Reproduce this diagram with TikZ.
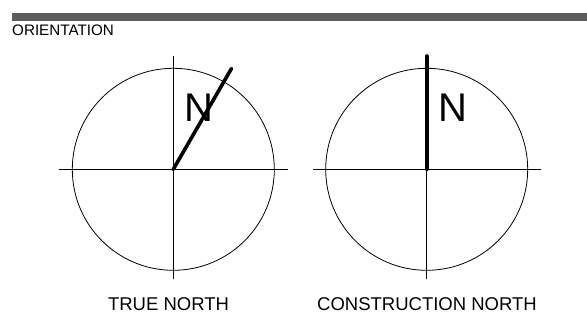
\documentclass[tikz,border=0pt]{standalone}
\usepackage{fontspec}
\setmainfont{Liberation Sans}
\usepackage{tikz}

\begin{document}
\begin{tikzpicture}[x=1pt,y=-1pt,
                    thin line/.style={line width=0.8pt},
                    needle/.style={line width=3.6pt,line cap=round},
                    dial/.style={circle,draw,thin line,inner sep=0pt,minimum size=202pt},
                    caption/.style={inner sep=0pt,anchor=base,font=\fontsize{18.5}{20}\selectfont}]
  \useasboundingbox (0,0) rectangle (587,323);
  % header bar and title
  \fill[black!64] (12,13) rectangle (587,21);
  \node[inner sep=0pt,anchor=base west,font=\fontsize{15.2}{16}\selectfont] (title) at (12,36) {ORIENTATION};
  % true north: needle turned 30 degrees off the grid
  \node[dial] (tn) at (173.3,169.3) {};
  \coordinate (tnT) at (173.3,56);  \coordinate (tnB) at (173.3,279);
  \coordinate (tnL) at (59.3,169.3); \coordinate (tnR) at (288,169.3);
  \coordinate (tnTip) at (231.5,68.5);
  \draw[thin line] (tnT)--(tnB); \draw[thin line] (tnL)--(tnR);
  \draw[needle] (tn.center)--(tnTip);
  \node[inner sep=0pt,anchor=base,font=\fontsize{40}{40}\selectfont] (tnN) at (199,121.7) {N};
  \node[caption] (tnText) at (168.5,310.5) {TRUE NORTH};
  % construction north: needle on the grid axis
  \node[dial] (cn) at (426.7,169.3) {};
  \coordinate (cnT) at (426.7,56);  \coordinate (cnB) at (426.7,279);
  \coordinate (cnL) at (312.7,169.3); \coordinate (cnR) at (540.7,169.3);
  \draw[thin line] (cn.center)--(cnB); \draw[thin line] (cnL)--(cnR);
  \draw[needle] (cn.center)--(cnT);
  \node[inner sep=0pt,anchor=base,font=\fontsize{40}{40}\selectfont] (cnN) at (453,121.7) {N};
  \node[caption] (cnText) at (427,310.5) {CONSTRUCTION NORTH};
\end{tikzpicture}
\end{document}
